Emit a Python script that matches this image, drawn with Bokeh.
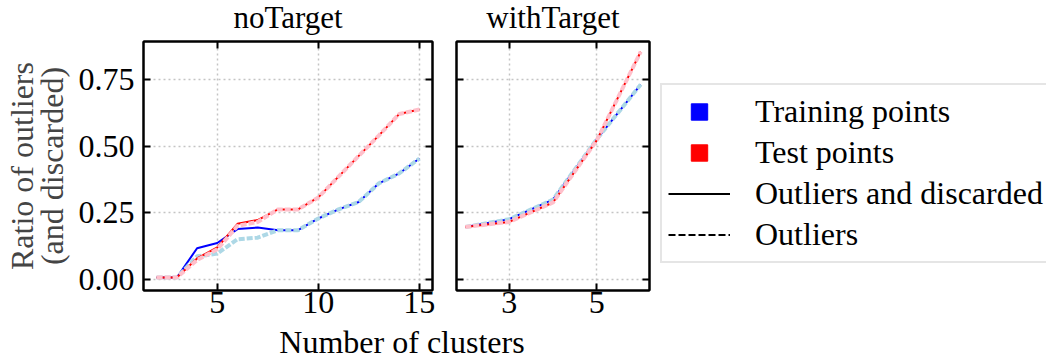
import math
from bokeh.plotting import figure
from bokeh.models import (Range1d, FixedTicker, LinearAxis, NumeralTickFormatter,
                          Legend, LegendItem, Div, Label)
from bokeh.layouts import row, column
from bokeh.embed import file_html
from bokeh.resources import INLINE

FONT = "Liberation Serif"
FS = "32px"

# ---- data ----
clusters_noTarget = [2, 3, 4, 5, 6, 7, 8, 9, 10, 11, 12, 13, 14, 15]
train_all_noTarget = [0.006, 0.006, 0.116, 0.136, 0.188, 0.194, 0.184, 0.184, 0.228, 0.262, 0.290, 0.360, 0.397, 0.453]
train_out_noTarget = [0.006, 0.006, 0.086, 0.096, 0.150, 0.156, 0.184, 0.184, 0.228, 0.262, 0.290, 0.360, 0.397, 0.453]
test_all_noTarget = [0.006, 0.006, 0.078, 0.119, 0.208, 0.222, 0.262, 0.262, 0.307, 0.385, 0.463, 0.540, 0.620, 0.637]
test_out_noTarget = [0.006, 0.006, 0.072, 0.112, 0.200, 0.215, 0.262, 0.262, 0.307, 0.385, 0.463, 0.540, 0.620, 0.637]

clusters_withTarget = [2, 3, 4, 5, 6]
train_all_withTarget = [0.196, 0.225, 0.299, 0.526, 0.731]
train_out_withTarget = [0.196, 0.225, 0.299, 0.526, 0.731]
test_all_withTarget = [0.196, 0.215, 0.288, 0.522, 0.854]
test_out_withTarget = [0.196, 0.215, 0.288, 0.522, 0.854]

y_ticks = [0.0, 0.25, 0.5, 0.75]
x_ticks_noTarget = [5, 10, 15]
x_ticks_withTarget = [3, 5]
panel_titles = ["noTarget", "withTarget"]
legend_labels = ["Training points", "Test points", "Outliers and discarded", "Outliers"]
y_label_lines = ["Ratio of outliers", "(and discarded)"]
x_label = "Number of clusters"

TRAIN_DARK, TRAIN_LIGHT = "#0000ff", "#add8e6"
TEST_DARK, TEST_LIGHT = "#ff0000", "#ffc0cb"

y_range = Range1d(-0.0425, 0.8925)
H = 328
BORDER_TOP, BORDER_BOTTOM = 41, 38


def style_axis(ax, ticks, labels, standoff=8):
    ax.ticker = FixedTicker(ticks=ticks)
    ax.major_tick_in = 7
    ax.major_tick_out = 0
    ax.minor_tick_line_color = None
    ax.major_tick_line_width = 2
    ax.major_tick_line_color = "black"
    ax.axis_line_width = 2
    ax.axis_line_color = "black"
    ax.major_label_text_font = FONT
    if labels:
        ax.major_label_text_color = "black"
        ax.major_label_text_font_size = FS
        ax.major_label_standoff = standoff
    else:
        ax.major_label_text_color = None
        ax.major_label_text_font_size = "1px"
        ax.major_label_standoff = 0


def make_panel(title, xr, xticks, xs, tr_all, tr_out, te_all, te_out, width, bl, br, show_y):
    p = figure(width=width, height=H, x_range=xr, y_range=y_range,
               output_backend="svg", toolbar_location=None,
               min_border_left=bl, min_border_right=br,
               min_border_top=BORDER_TOP, min_border_bottom=BORDER_BOTTOM)
    p.outline_line_color = "black"
    p.outline_line_width = 2
    p.background_fill_color = "white"
    p.border_fill_color = "white"

    style_axis(p.xaxis[0], xticks, True, standoff=1)
    style_axis(p.yaxis[0], y_ticks, show_y, standoff=9)
    p.yaxis[0].formatter = NumeralTickFormatter(format="0.00")

    top = LinearAxis()
    style_axis(top, xticks, False)
    p.add_layout(top, "above")
    right = LinearAxis()
    style_axis(right, y_ticks, False)
    p.add_layout(right, "right")

    # panel title in the area above the frame
    p.add_layout(Label(x=(xr.start + xr.end) / 2, y=24, x_units="data", y_units="screen",
                       text=title, text_align="center", text_baseline="alphabetic",
                       text_font=FONT, text_font_size="31px", text_color="black"), "above")

    if show_y:
        p.yaxis[0].axis_label = y_label_lines[1]
        p.yaxis[0].axis_label_text_font = FONT
        p.yaxis[0].axis_label_text_font_size = FS
        p.yaxis[0].axis_label_text_font_style = "normal"
        p.yaxis[0].axis_label_standoff = 6
        outer = LinearAxis(ticker=FixedTicker(ticks=[]))
        outer.axis_line_color = None
        outer.major_tick_line_color = None
        outer.minor_tick_line_color = None
        outer.major_label_text_color = None
        outer.major_label_text_font_size = "1px"
        outer.major_label_standoff = 0
        outer.axis_label = y_label_lines[0]
        outer.axis_label_text_font = FONT
        outer.axis_label_text_font_size = FS
        outer.axis_label_text_font_style = "normal"
        outer.axis_label_standoff = -9
        p.add_layout(outer, "left")

    for g in (p.xgrid[0], p.ygrid[0]):
        g.grid_line_color = "#c4c4c4"
        g.grid_line_width = 1.5
        g.grid_line_dash = "2 3"
    p.xgrid[0].ticker = FixedTicker(ticks=xticks)
    p.ygrid[0].ticker = FixedTicker(ticks=y_ticks)

    p.line(xs, tr_all, color=TRAIN_DARK, line_width=2)
    p.line(xs, tr_out, color=TRAIN_LIGHT, line_width=4, line_dash="6 2")
    p.line(xs, te_all, color=TEST_DARK, line_width=2)
    p.line(xs, te_out, color=TEST_LIGHT, line_width=4, line_dash="6 2")
    return p


p1 = make_panel(panel_titles[0], Range1d(1.35, 15.65), x_ticks_noTarget, clusters_noTarget,
                train_all_noTarget, train_out_noTarget, test_all_noTarget, test_out_noTarget,
                width=444, bl=143, br=12, show_y=True)
p2 = make_panel(panel_titles[1], Range1d(1.8, 6.2), x_ticks_withTarget, clusters_withTarget,
                train_all_withTarget, train_out_withTarget, test_all_withTarget, test_out_withTarget,
                width=209, bl=12, br=4, show_y=False)

# legend panel
p3 = figure(width=1046 - 444 - 209, height=H, x_range=Range1d(0, 1), y_range=Range1d(0, 1),
            output_backend="svg", toolbar_location=None, min_border=0,
            x_axis_location=None, y_axis_location=None)
p3.outline_line_color = None
p3.grid.visible = False
nan = float("nan")
r1 = p3.scatter([nan], [nan], marker="square", color=TRAIN_DARK, size=10)
r2 = p3.scatter([nan], [nan], marker="square", color=TEST_DARK, size=10)
r3 = p3.line([nan], [nan], color="black", line_width=2)
r4 = p3.line([nan], [nan], color="black", line_width=2, line_dash="7 3")
legend = Legend(items=[LegendItem(label=legend_labels[0], renderers=[r1]),
                       LegendItem(label=legend_labels[1], renderers=[r2]),
                       LegendItem(label=legend_labels[2], renderers=[r3]),
                       LegendItem(label=legend_labels[3], renderers=[r4])],
                location=(7, 27), margin=0, padding=6, spacing=0,
                glyph_width=62, glyph_height=41, label_height=41, label_standoff=25,
                label_text_font=FONT, label_text_font_size=FS, label_text_color="black",
                border_line_color="#cccccc", border_line_width=2, background_fill_color="white")
p3.add_layout(legend, "center")

# bottom x label
xlab = Div(text=x_label, width=794, height=33,
           styles={"font-family": FONT, "font-size": FS, "line-height": "19px",
                   "text-align": "center", "color": "black", "width": "794px",
                   "white-space": "nowrap"})

layout = column(row(p1, p2, p3), xlab)
open("out.html", "w").write(file_html(layout, INLINE))
